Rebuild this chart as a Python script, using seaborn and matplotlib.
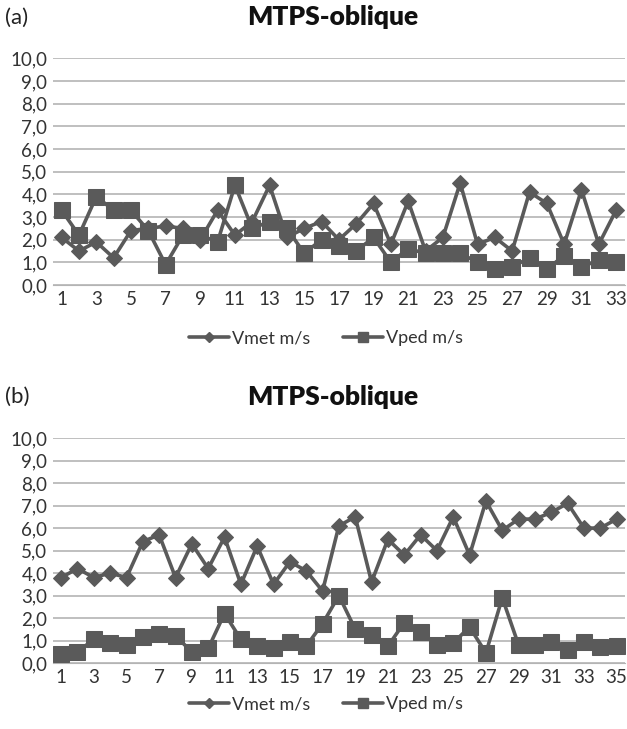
import numpy as np
import pandas as pd
import matplotlib
matplotlib.use("Agg")
import matplotlib.pyplot as plt
from matplotlib.lines import Line2D
from matplotlib.ticker import FuncFormatter
import seaborn as sns

# panel (a): 33 trials
vmet_a = [2.1, 1.5, 1.9, 1.2, 2.4, 2.5, 2.6, 2.5, 2.0, 3.3, 2.2, 2.8, 4.4, 2.1, 2.5,
          2.8, 2.0, 2.7, 3.6, 1.8, 3.7, 1.5, 2.1, 4.5, 1.8, 2.1, 1.5, 4.1, 3.6, 1.8,
          4.2, 1.8, 3.3]
vped_a = [3.3, 2.2, 3.9, 3.3, 3.3, 2.4, 0.9, 2.2, 2.2, 1.9, 4.4, 2.5, 2.8, 2.5, 1.4,
          2.0, 1.7, 1.5, 2.1, 1.0, 1.6, 1.4, 1.4, 1.4, 1.0, 0.7, 0.8, 1.2, 0.7, 1.3,
          0.8, 1.1, 1.0]

# panel (b): 35 trials
vmet_b = [3.8, 4.2, 3.8, 4.0, 3.8, 5.4, 5.7, 3.8, 5.3, 4.2, 5.6, 3.5, 5.2, 3.5, 4.5,
          4.1, 3.2, 6.1, 6.5, 3.6, 5.5, 4.8, 5.7, 5.0, 6.5, 4.8, 7.2, 5.9, 6.4, 6.4,
          6.7, 7.1, 6.0, 6.0, 6.4]
vped_b = [0.4, 0.5, 1.05, 0.9, 0.8, 1.15, 1.3, 1.2, 0.5, 0.65, 2.2, 1.05, 0.75, 0.65, 0.95,
          0.75, 1.75, 3.0, 1.5, 1.25, 0.75, 1.8, 1.4, 0.8, 0.9, 1.6, 0.45, 2.9, 0.8, 0.8,
          0.95, 0.6, 0.95, 0.7, 0.75]

labels = ["Vmet m/s", "Vped m/s"]
panel_tags = ["(a)", "(b)"]
title = "MTPS-oblique"

sns.set_style("white")
plt.rcParams['font.family'] = ['Lato', 'DejaVu Sans']

LINE = "#5a5a5a"
GRID = "#b4b4b4"

fig = plt.figure(figsize=(6.27, 7.29), dpi=100)

panels = [
    (vmet_a, vped_a, [0.0845, 0.609, 0.912, 0.311]),
    (vmet_b, vped_b, [0.0845, 0.0905, 0.912, 0.3085]),
]
legend_y = [0.536, 0.034]
title_y = [0.976, 0.455]

for i, (vmet, vped, rect) in enumerate(panels):
    ax = fig.add_axes(rect)
    n = len(vmet)
    df = pd.DataFrame({
        "trial": np.arange(1, n + 1),
        labels[0]: vmet,
        labels[1]: vped,
    })
    sns.lineplot(data=df, x="trial", y=labels[1], ax=ax, color=LINE, lw=2.6,
                 marker="s", markersize=11, markeredgecolor=LINE, zorder=3)
    sns.lineplot(data=df, x="trial", y=labels[0], ax=ax, color=LINE, lw=2.6,
                 marker="D", markersize=8.5, markeredgecolor=LINE, zorder=4)
    ax.set_xlim(0.5, n + 0.5)
    ax.set_ylim(0, 10)
    ax.set_yticks(np.arange(0, 11, 1))
    ax.yaxis.set_major_formatter(FuncFormatter(lambda v, p: f"{v:.1f}".replace(".", ",")))
    ax.set_xticks(np.arange(1, n + 1, 2))
    ax.grid(axis="y", color=GRID, lw=1.2)
    ax.set_axisbelow(True)
    for s in ax.spines.values():
        s.set_visible(False)
    ax.spines["bottom"].set_visible(True)
    ax.spines["bottom"].set_color(GRID)
    ax.tick_params(axis="both", length=0, labelsize=13.5, colors="#333333", pad=4)
    ax.set_xlabel("")
    ax.set_ylabel("")

    fig.text(0.008, title_y[i], panel_tags[i], fontsize=16, color="#222222", va="center")
    fig.text(0.53, title_y[i], title, fontsize=19, fontweight="heavy", color="#111111",
             ha="center", va="center")

    handles = [
        Line2D([], [], color=LINE, lw=2.6, marker="D", markersize=5),
        Line2D([], [], color=LINE, lw=2.6, marker="s", markersize=7),
    ]
    fig.legend(handles, labels, loc="center", bbox_to_anchor=(0.52, legend_y[i]),
               ncol=2, frameon=False, fontsize=13, handlelength=2.2,
               handletextpad=0.2, columnspacing=1.8, labelcolor="#333333")

fig.savefig("out.png", dpi=100, facecolor="white")
